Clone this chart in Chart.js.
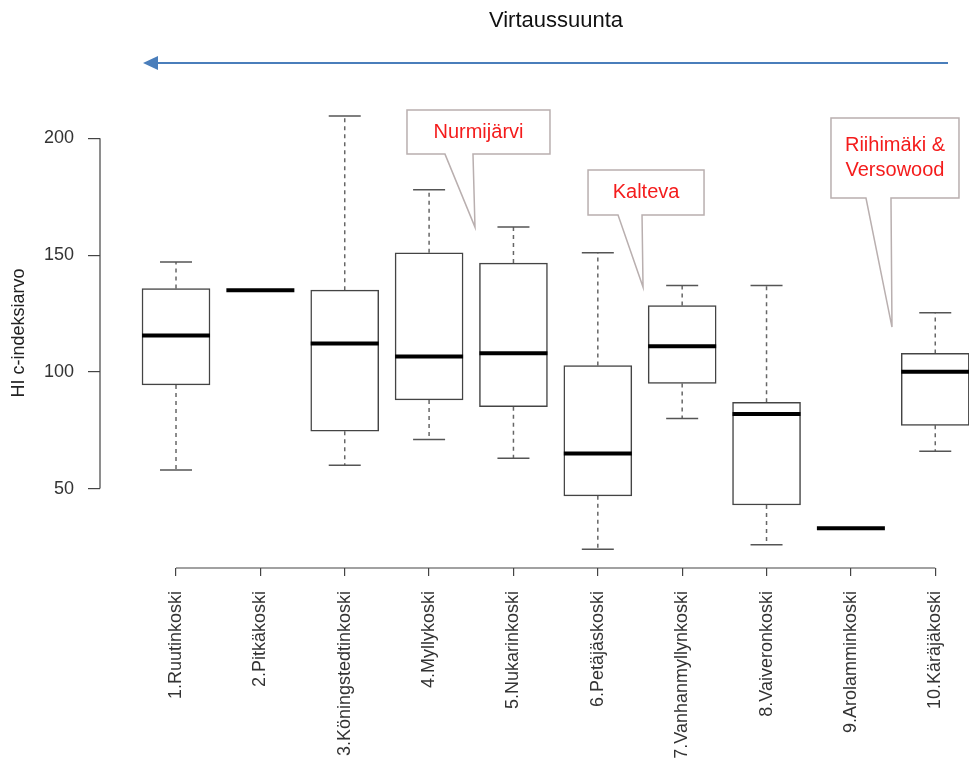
<!DOCTYPE html>
<html>
<head>
<meta charset="utf-8">
<title>HI c-indeksiarvo</title>
<script src="https://cdn.jsdelivr.net/npm/chart.js@4/dist/chart.umd.min.js"></script>
<style>
	html, body{ margin:0; padding:0; background:#fff; overflow:hidden; }
	#plot{ display:block; }
</style>
</head>
<body>
<canvas id="plot" width="969" height="767"></canvas>
<script>
	// sampling sites, numbered downstream -> upstream
	const sites = ["1.Ruutinkoski","2.Pitkäkoski","3.Köningstedtinkoski","4.Myllykoski","5.Nukarinkoski",
		"6.Petäjäskoski","7.Vanhanmyllynkoski","8.Vaiveronkoski","9.Arolamminkoski","10.Käräjäkoski"];
	// box statistics
	const whiskLo = [58,   135, 60,    71,    63,    24,    80,    26,  33, 66];
	const q1      = [94.4, 135, 74.6,  88,    85.1,  46.9,  95,    43,  33, 77.1];
	const median  = [115.6,135, 112.1, 106.6, 108,   65,    111,   82,  33, 100];
	const q3      = [135.7,135, 135,   151,   146.6, 102.7, 128.4, 87,  33, 107.9];
	const whiskHi = [147,  135, 209.6, 178,   162,   151,   137,   137, 33, 125.3];
	const yTicks = [50, 100, 150, 200];
	const yTitle = "HI c-indeksiarvo";
	const flowTitle = "Virtaussuunta";
	// speech bubbles: text, tip in data units, then box/tail offsets in px from the tip
	const callouts = [
		{lines:["Nurmijärvi"], at:[4.544, 162], box:[-68, -117, 143, 44], tail:[-30, -2]},
		{lines:["Kalteva"], at:[6.536, 136.3], box:[-55, -117, 116, 45], tail:[-25, -1]},
		{lines:["Riihimäki &", "Versowood"], at:[9.487, 119.2], box:[-61, -209, 128, 80], tail:[-26, -1]}
	];

	const FONT = '"Liberation Sans", Arial, Helvetica, sans-serif';
	const idx = sites.map((s, i) => i + 1);

	const boxData = idx.map((x, i) => ({x: x, y: [q1[i], q3[i]]}));
	const medData = idx.map((x, i) => ({x: x, y: median[i]}));
	const capData = idx.flatMap((x, i) => [{x: x, y: whiskLo[i]}, {x: x, y: whiskHi[i]}]);
	const whiskData = idx.flatMap((x, i) => [
		{x: x, y: q3[i]}, {x: x, y: whiskHi[i]}, {x: x, y: null},
		{x: x, y: q1[i]}, {x: x, y: whiskLo[i]}, {x: x, y: null}
	]);

	const decor = {
		id: 'decor',
		afterDraw(chart){
			const ctx = chart.ctx, area = chart.chartArea;
			const x = chart.scales.x, y = chart.scales.y;
			ctx.save();
			// R style axis lines, only from first to last tick
			ctx.strokeStyle = '#444';
			ctx.lineWidth = 1.2;
			ctx.beginPath();
			ctx.moveTo(area.left, y.getPixelForValue(yTicks[0]));
			ctx.lineTo(area.left, y.getPixelForValue(yTicks[yTicks.length - 1]));
			ctx.moveTo(x.getPixelForValue(idx[0]), area.bottom);
			ctx.lineTo(x.getPixelForValue(idx[idx.length - 1]), area.bottom);
			ctx.stroke();

			// y title
			ctx.fillStyle = '#222';
			ctx.font = '18px ' + FONT;
			ctx.textAlign = 'center';
			ctx.textBaseline = 'middle';
			ctx.translate(19, 333);
			ctx.rotate(-Math.PI / 2);
			ctx.fillText(yTitle, 0, 0);
			ctx.setTransform(1, 0, 0, 1, 0, 0);

			// flow direction
			ctx.fillStyle = '#111';
			ctx.font = '22px ' + FONT;
			ctx.fillText(flowTitle, 556, 21);
			ctx.strokeStyle = '#4a7ebb';
			ctx.fillStyle = '#4a7ebb';
			ctx.lineWidth = 2;
			ctx.beginPath();
			ctx.moveTo(948, 63);
			ctx.lineTo(155, 63);
			ctx.stroke();
			ctx.beginPath();
			ctx.moveTo(143, 63);
			ctx.lineTo(158, 56);
			ctx.lineTo(158, 70);
			ctx.closePath();
			ctx.fill();

			// callouts
			callouts.forEach(c => {
				const tx = x.getPixelForValue(c.at[0]), ty = y.getPixelForValue(c.at[1]);
				const l = tx + c.box[0], t = ty + c.box[1], w = c.box[2], h = c.box[3];
				ctx.beginPath();
				ctx.moveTo(l, t);
				ctx.lineTo(l + w, t);
				ctx.lineTo(l + w, t + h);
				ctx.lineTo(tx + c.tail[1], t + h);
				ctx.lineTo(tx, ty);
				ctx.lineTo(tx + c.tail[0], t + h);
				ctx.lineTo(l, t + h);
				ctx.closePath();
				ctx.fillStyle = '#fff';
				ctx.fill();
				ctx.strokeStyle = '#b9afaf';
				ctx.lineWidth = 1.5;
				ctx.stroke();
				ctx.fillStyle = '#f41c1c';
				ctx.font = '20px ' + FONT;
				const lh = 25, cy = t + h / 2 - (c.lines.length - 1) * lh / 2;
				c.lines.forEach((s, k) => ctx.fillText(s, l + w / 2, cy + k * lh));
			});
			ctx.restore();
		}
	};

	new Chart(document.getElementById("plot"), {
		type: 'bar',
		data: {
			datasets: [
				{type: 'line', label: 'median', data: medData, showLine: false, pointStyle: 'line', clip: false,
					pointRadius: 34, pointHoverRadius: 34, pointBorderWidth: 4, pointBorderColor: '#000', order: 0},
				{type: 'bar', label: 'box', data: boxData, backgroundColor: '#fff', borderColor: '#444', clip: false,
					borderWidth: 1.5, borderSkipped: false, barThickness: 68, order: 1},
				{type: 'line', label: 'caps', data: capData, showLine: false, pointStyle: 'line', clip: false,
					pointRadius: 16, pointHoverRadius: 16, pointBorderWidth: 1.5, pointBorderColor: '#555', order: 2},
				{type: 'line', label: 'whiskers', data: whiskData, borderColor: '#666', borderWidth: 1.5, clip: false,
					borderDash: [4, 4], pointRadius: 0, spanGaps: false, order: 3}
			]
		},
		options: {
			responsive: false,
			animation: false,
			events: [],
			// no auto padding: the wide median markers would otherwise push the right edge in
			layout: {autoPadding: false, padding: {top: 80, right: 0, bottom: 0, left: 0}},
			plugins: {legend: {display: false}, tooltip: {enabled: false}},
			scales: {
				x: {
					type: 'linear', min: 0.099, max: 10.40, offset: false, bounds: 'data',
					afterBuildTicks: s => { s.ticks = idx.map(v => ({value: v})); },
					afterFit: s => { s.height = 199; s.paddingLeft = 0; s.paddingRight = 0; },
					grid: {offset: false, drawOnChartArea: false, tickLength: 8, color: '#444', lineWidth: 1.2},
					border: {display: false},
					ticks: {autoSkip: false, minRotation: 90, maxRotation: 90, padding: 15, color: '#333',
						font: {family: FONT, size: 18}, callback: v => sites[v - 1]}
				},
				y: {
					min: 16, max: 225,
					afterBuildTicks: s => { s.ticks = yTicks.map(v => ({value: v})); },
					afterFit: s => { s.width = 100; },
					grid: {drawOnChartArea: false, tickLength: 12, color: '#444', lineWidth: 1.2},
					border: {display: false},
					ticks: {padding: 14, color: '#333', font: {family: FONT, size: 18}}
				}
			}
		},
		plugins: [decor]
	});
</script>
</body>
</html>
